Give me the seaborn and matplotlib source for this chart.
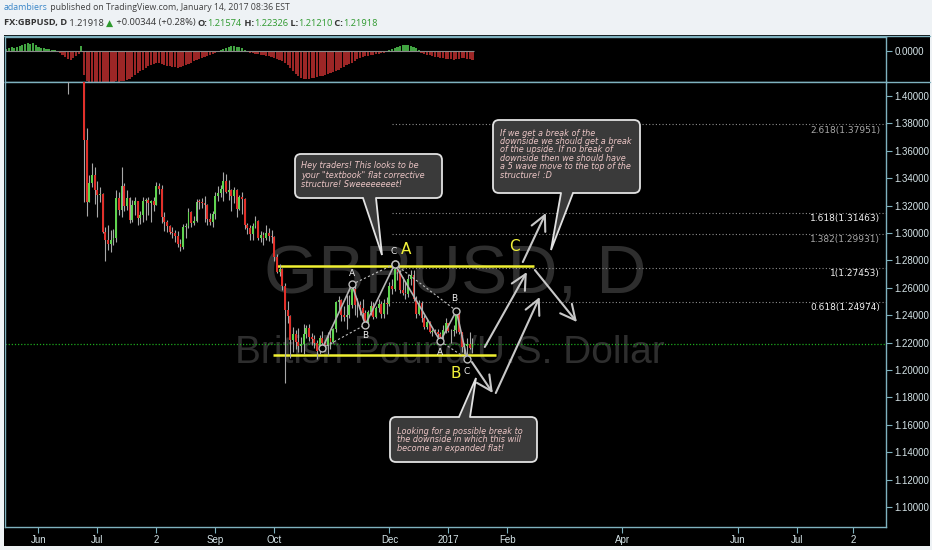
import numpy as np
import pandas as pd
import matplotlib
matplotlib.use("Agg")
import matplotlib.pyplot as plt
import seaborn as sns
from matplotlib.patches import Rectangle, FancyBboxPatch, Polygon
from matplotlib.lines import Line2D

W, H = 932, 550

# ---------------- data (daily FX:GBPUSD candles) ----------------
first_day, last_day = "2016-06-16", "2017-01-13"
opens = [1.4197, 1.4199, 1.4360, 1.4680, 1.4685, 1.4680,
         1.4877, 1.3679, 1.3224, 1.3364, 1.3425, 1.3311,
         1.3277, 1.3283, 1.3005, 1.2946, 1.2918,
         1.2951, 1.2966, 1.3255, 1.3170, 1.3341,
         1.3195, 1.3252, 1.3098, 1.3202, 1.3235,
         1.3109, 1.3134, 1.3234, 1.3240, 1.3216,
         1.3232, 1.3206, 1.3342, 1.3324, 1.3115,
         1.3080, 1.3052, 1.3010, 1.3003, 1.2975,
         1.2922, 1.2898, 1.3043, 1.3049, 1.3150,
         1.3072, 1.3088, 1.3227, 1.3226, 1.3219,
         1.3202, 1.3102, 1.3082, 1.3136, 1.3271,
         1.3292, 1.3321, 1.3376, 1.3302, 1.3314,
         1.3267, 1.3315, 1.3176, 1.3264, 1.3246,
         1.3056, 1.3037, 1.2992, 1.3053, 1.3089,
         1.2965, 1.2985, 1.2964, 1.3003, 1.2977,
         1.2969, 1.2827, 1.2713, 1.2738, 1.2616,
         1.2436, 1.2395, 1.2220, 1.2263, 1.2204,
         1.2178, 1.2187, 1.2263, 1.2303, 1.2240,
         1.2228, 1.2195, 1.2140, 1.2233, 1.2195,
         1.2184, 1.2230, 1.2205, 1.2296, 1.2494,
         1.2511, 1.2404, 1.2386, 1.2402, 1.2478,
         1.2588, 1.2472, 1.2474, 1.2452, 1.2415,
         1.2348, 1.2422, 1.2466, 1.2389, 1.2455,
         1.2483, 1.2410, 1.2486, 1.2484, 1.2610,
         1.2589, 1.2740, 1.2712, 1.2582, 1.2563,
         1.2553, 1.2664, 1.2691, 1.2517, 1.2412,
         1.2490, 1.2383, 1.2312, 1.2350, 1.2281,
         1.2287, 1.2280, 1.2260, 1.2242, 1.2293,
         1.2340, 1.2287, 1.2283, 1.2291, 1.2410,
         1.2277, 1.2167, 1.2174, 1.2187, 1.21574]
highs = [1.4253, 1.4360, 1.4722, 1.4780, 1.4735, 1.5018,
         1.5018, 1.3768, 1.3422, 1.3512, 1.3480, 1.3381,
         1.3339, 1.3291, 1.3042, 1.3061, 1.3020,
         1.3032, 1.3311, 1.3299, 1.3480, 1.3366,
         1.3314, 1.3260, 1.3244, 1.3263, 1.3237,
         1.3164, 1.3266, 1.3258, 1.3263, 1.3244,
         1.3266, 1.3372, 1.3365, 1.3347, 1.3152,
         1.3097, 1.3060, 1.3041, 1.3022, 1.3014,
         1.2953, 1.3063, 1.3076, 1.3186, 1.3159,
         1.3123, 1.3248, 1.3245, 1.3259, 1.3273,
         1.3212, 1.3143, 1.3157, 1.3298, 1.3340,
         1.3347, 1.3445, 1.3430, 1.3388, 1.3323,
         1.3336, 1.3322, 1.3280, 1.3297, 1.3255,
         1.3072, 1.3060, 1.3070, 1.3122, 1.3092,
         1.3018, 1.3004, 1.3056, 1.3039, 1.3022,
         1.2975, 1.2846, 1.2772, 1.2747, 1.2636,
         1.2505, 1.2405, 1.2317, 1.2294, 1.2306,
         1.2242, 1.2335, 1.2332, 1.2336, 1.2270,
         1.2255, 1.2218, 1.2257, 1.2287, 1.2218,
         1.2275, 1.2292, 1.2310, 1.2501, 1.2540,
         1.2515, 1.2466, 1.2544, 1.2545, 1.2625,
         1.2610, 1.2528, 1.2500, 1.2515, 1.2440,
         1.2440, 1.2500, 1.2495, 1.2470, 1.2520,
         1.2500, 1.2515, 1.2530, 1.2640, 1.2665,
         1.2774, 1.2775, 1.2730, 1.2680, 1.2640,
         1.2700, 1.2730, 1.2730, 1.2540, 1.2510,
         1.2500, 1.2400, 1.2375, 1.2360, 1.2300,
         1.2300, 1.2300, 1.2280, 1.2330, 1.2380,
         1.2345, 1.2300, 1.2330, 1.2432, 1.2415,
         1.2280, 1.2195, 1.2230, 1.2280, 1.22326]
lows = [1.4013, 1.4180, 1.4360, 1.4620, 1.4630, 1.4640,
        1.3229, 1.3122, 1.3224, 1.3333, 1.3212, 1.3120,
        1.3226, 1.2999, 1.2798, 1.2879, 1.2861,
        1.2915, 1.2935, 1.3135, 1.3118, 1.3158,
        1.3171, 1.3070, 1.3081, 1.3131, 1.3056,
        1.3065, 1.3078, 1.3092, 1.3135, 1.3082,
        1.3160, 1.3205, 1.3285, 1.3072, 1.3015,
        1.3010, 1.2992, 1.2966, 1.2935, 1.2898,
        1.2865, 1.2884, 1.2967, 1.3040, 1.3045,
        1.3055, 1.3081, 1.3175, 1.3185, 1.3080,
        1.3060, 1.3058, 1.3045, 1.3102, 1.3230,
        1.3260, 1.3237, 1.3290, 1.3240, 1.3163,
        1.3220, 1.3120, 1.3170, 1.3140, 1.3031,
        1.2990, 1.2948, 1.2952, 1.3040, 1.2950,
        1.2937, 1.2916, 1.2952, 1.2942, 1.2924,
        1.2799, 1.2705, 1.2684, 1.2582, 1.1905,
        1.2340, 1.2087, 1.2130, 1.2153, 1.2135,
        1.2134, 1.2114, 1.2232, 1.2214, 1.2180,
        1.2160, 1.2080, 1.2120, 1.2160, 1.2136,
        1.2112, 1.2150, 1.2200, 1.2280, 1.2440,
        1.2361, 1.2360, 1.2302, 1.2380, 1.2450,
        1.2400, 1.2385, 1.2400, 1.2380, 1.2330,
        1.2340, 1.2400, 1.2370, 1.2380, 1.2420,
        1.2380, 1.2380, 1.2410, 1.2470, 1.2555,
        1.2580, 1.2658, 1.2560, 1.2545, 1.2520,
        1.2530, 1.2620, 1.2500, 1.2380, 1.2400,
        1.2350, 1.2300, 1.2300, 1.2270, 1.2250,
        1.2260, 1.2240, 1.2210, 1.2220, 1.2270,
        1.2280, 1.2200, 1.2250, 1.2270, 1.2260,
        1.2135, 1.2120, 1.2080, 1.2150, 1.21210]
closes = [1.4199, 1.4360, 1.4680, 1.4685, 1.4680, 1.4877,
          1.3679, 1.3224, 1.3364, 1.3425, 1.3311, 1.3277,
          1.3283, 1.3005, 1.2946, 1.2918, 1.2951,
          1.2966, 1.3255, 1.3170, 1.3341, 1.3195,
          1.3252, 1.3098, 1.3202, 1.3235, 1.3109,
          1.3134, 1.3234, 1.3240, 1.3216, 1.3232,
          1.3206, 1.3342, 1.3324, 1.3115, 1.3080,
          1.3052, 1.3010, 1.3003, 1.2975, 1.2922,
          1.2898, 1.3043, 1.3049, 1.3150, 1.3072,
          1.3088, 1.3227, 1.3226, 1.3219, 1.3202,
          1.3102, 1.3082, 1.3136, 1.3271, 1.3292,
          1.3321, 1.3376, 1.3302, 1.3314, 1.3267,
          1.3315, 1.3176, 1.3264, 1.3246, 1.3056,
          1.3037, 1.2992, 1.3053, 1.3089, 1.2965,
          1.2985, 1.2964, 1.3003, 1.2977, 1.2969,
          1.2827, 1.2713, 1.2738, 1.2616, 1.2436,
          1.2395, 1.2220, 1.2263, 1.2204, 1.2178,
          1.2187, 1.2263, 1.2303, 1.2240, 1.2228,
          1.2195, 1.2140, 1.2233, 1.2195, 1.2184,
          1.2230, 1.2205, 1.2296, 1.2494, 1.2511,
          1.2404, 1.2386, 1.2402, 1.2478, 1.2588,
          1.2472, 1.2474, 1.2452, 1.2415, 1.2348,
          1.2422, 1.2466, 1.2389, 1.2455, 1.2483,
          1.2410, 1.2486, 1.2484, 1.2610, 1.2589,
          1.2740, 1.2712, 1.2582, 1.2563, 1.2553,
          1.2664, 1.2691, 1.2517, 1.2412, 1.2490,
          1.2383, 1.2312, 1.2350, 1.2281, 1.2287,
          1.2280, 1.2260, 1.2242, 1.2293, 1.2340,
          1.2287, 1.2283, 1.2291, 1.2410, 1.2277,
          1.2167, 1.2174, 1.2187, 1.2157, 1.21918]

# oscillator panel (histogram, thousandths)
osc_first_day = "2016-05-16"
osc_values = [2, 3, 4, 3, 4, 5, 6, 7, 8, 7, 8, 6, 4, 3, 3, 2, 2, 1, 1,
              -1, -2, -4, -6, -8, -9, -7, -5, -3, 5,
              -24, -30, -31, -31, -31, -31, -31, -31, -31, -31, -31, -31,
              -30, -31, -30, -30, -29, -28,
              -26, -24, -22, -20, -19, -17, -15, -14, -13, -12, -12,
              -13, -14, -15, -15, -16, -16, -17, -16,
              -15, -14, -13, -12, -10, -9, -8, -7, -6, -5, -4, -3, -2, -1,
              1, 2, 3, 4, 5, 5, 4, 4, 3, 1,
              -1, -2, -2, -3, -3, -4, -4, -5, -5, -6, -7, -8, -9, -10, -12,
              -14, -17, -20, -23, -25, -27, -28, -28, -28, -27, -27, -26,
              -25, -25, -24, -23, -22, -21, -20, -19, -17, -16, -14, -13,
              -12, -10, -8, -7, -6, -5, -5, -4, -4, -3, -3, -2, -2, -1,
              1, 2, 3, 4, 5, 6, 6, 6, 5, 4, 3, 1,
              -2, -3, -4, -4, -5, -6, -6, -7, -7, -8, -8, -8, -9, -8, -8,
              -7, -7, -8, -8, -9]

# right axis / x axis labels
price_ticks = [1.10, 1.12, 1.14, 1.16, 1.18, 1.20, 1.22, 1.24, 1.26, 1.28,
               1.30, 1.32, 1.34, 1.36, 1.38, 1.40]
tick_dates = ["2016-06-01", "2016-07-01", "2016-08-02", "2016-09-01",
              "2016-10-03", "2016-12-01", "2017-01-02", "2017-02-01",
              "2017-04-03", "2017-06-01", "2017-07-03", "2017-08-01"]
tick_labels = ["Jun", "Jul", "2", "Sep", "Oct", "Dec", "2017", "Feb",
               "Apr", "Jun", "Jul", "2"]

# fibonacci extension levels
fib_ratios = ["2.618", "1.618", "1.382", "1", "0.618"]
fib_prices = [1.37951, 1.31463, 1.29931, 1.27453, 1.24974]
fib_bright = [False, True, False, True, True]
last_close = 1.21918

# yellow structure lines (start bar, end bar, price)
level_prices = [1.2760, 1.2112]
level_start = [72.0, 70.5]
level_end = [168.0, 153.7]

# wave pivots (0, A, B, C)
wave1_bars = [89, 100, 105, 116]
wave1_prices = [1.2160, 1.2625, 1.2330, 1.2774]
wave2_bars = [116, 133, 139, 143]
wave2_prices = [1.2774, 1.2210, 1.2432, 1.2080]

# larger-degree labels
degree_labels = ["A", "B", "C"]
degree_bars = [120.1, 138.8, 160.8]
degree_prices = [1.2876, 1.1978, 1.2898]

# projection arrows
arrow_from_bars = [149.6, 163.8, 168.3, 144.8, 153.7]
arrow_from_prices = [1.2168, 1.2788, 1.2730, 1.2058, 1.1832]
arrow_to_bars = [165.3, 172.4, 184.0, 152.6, 170.1]
arrow_to_prices = [1.2715, 1.3146, 1.2350, 1.1832, 1.2533]

# ---------------- bar index scale (trading days, Jun 24 2016 = 0) ----------------
all_days = pd.bdate_range("2016-04-01", "2017-10-31")
zero = all_days.get_loc(pd.Timestamp("2016-06-24"))


def bar_of(d):
    return all_days.get_loc(pd.Timestamp(d)) - zero


days = pd.bdate_range(first_day, last_day)
bars = np.array([bar_of(d) for d in days], dtype=float)
n = min(len(bars), len(closes))
bars = bars[:n]
o = np.array(opens[:n]); h = np.array(highs[:n])
l = np.array(lows[:n]); c = np.array(closes[:n])

osc_days = pd.bdate_range(osc_first_day, last_day)
osc_bars = np.array([bar_of(d) for d in osc_days], dtype=float)
m = min(len(osc_bars), len(osc_values))
osc_df = pd.DataFrame({"bar": osc_bars[:m],
                       "value": np.array(osc_values[:m]) * 0.001})
osc_df["sign"] = np.where(osc_df["value"] >= 0, "up", "down")

# ---------------- figure ----------------
sns.set_theme(style="dark")
plt.rcParams["font.family"] = ["DejaVu Sans"]
plt.rcParams["axes.linewidth"] = 1.0

fig = plt.figure(figsize=(W / 100, H / 100), dpi=100)
fig.patch.set_facecolor("#eef2f5")
fig.add_artist(Rectangle((4 / W, 1 - 546 / H), (930 - 4) / W, (546 - 35) / H,
                         transform=fig.transFigure, fc="black", ec="none", zorder=0))


def fax(x0, y0, x1, y1):
    return [x0 / W, 1 - y1 / H, (x1 - x0) / W, (y1 - y0) / H]


FRAME = "#7fb2bf"
AXTXT = "#d5e4e8"
GREEN = "#5fd34f"
RED = "#e0302a"

ax_osc = fig.add_axes(fax(5, 37, 886, 82))
ax = fig.add_axes(fax(5, 82, 886, 527))
XLIM = (-(84 - 5) / 2.679, (886 - 84) / 2.679)
YLIM = (1.40 - (527 - 96) / 1370.0, 1.40 + (96 - 82) / 1370.0)

for a in (ax_osc, ax):
    a.set_facecolor("black")
    for s in a.spines.values():
        s.set_color(FRAME)
        s.set_linewidth(1.0)
        s.set_visible(True)
    a.grid(False)

# --- oscillator via seaborn ---
sns.barplot(data=osc_df, x="bar", y="value", hue="sign", native_scale=True,
            palette={"up": "#32b432", "down": "#b01212"}, width=0.8,
            dodge=False, legend=False, errorbar=None, linewidth=0, ax=ax_osc)
ax_osc.hlines(0, XLIM[0], osc_bars[m - 1] + 0.5, color="#8a8a8a", lw=0.8, zorder=1)
ax_osc.set_xlim(*XLIM)
ax_osc.set_ylim(-0.031, 0.014)
ax_osc.set_xlabel(""); ax_osc.set_ylabel("")
ax_osc.set_xticks([])
ax_osc.yaxis.tick_right()
ax_osc.set_yticks([0.0])
ax_osc.set_yticklabels(["0.0000"])
ax_osc.tick_params(axis="y", colors=AXTXT, labelsize=7, length=4, width=0.8,
                   pad=2, direction="out", right=True, left=False)
for t in ax_osc.get_yticklabels():
    t.set_family(["Liberation Sans", "DejaVu Sans"])
ax_osc.tick_params(axis="y", color=FRAME)

# --- main price pane ---
ax.set_xlim(*XLIM)
ax.set_ylim(*YLIM)

# watermark
wm1 = ax.text(0.511, 0.566, "GBPUSD, D", transform=ax.transAxes, ha="center",
              va="center", color="#2e2e2e", fontsize=50,
              family=["Liberation Sans", "DejaVu Sans"], zorder=0)
wm2 = ax.text(0.505, 0.391, "British Pound/U.S. Dollar", transform=ax.transAxes,
              ha="center", va="center", color="#2e2e2e", fontsize=28,
              family=["Liberation Sans", "DejaVu Sans"], zorder=0)

# fib levels
fib_x0 = 115
ax.hlines(fib_prices, fib_x0, XLIM[1], colors="#8e8e8e", lw=0.8,
          linestyles=[(0, (1, 2))], zorder=1)
for r, p, b in zip(fib_ratios, fib_prices, fib_bright):
    ax.annotate(f"{r}({p:.5f})", xy=(XLIM[1], p), xytext=(-6, -6),
                textcoords="offset pixels", ha="right", va="center",
                fontsize=6.5, color="#f2f2f2" if b else "#a8a8a8", zorder=2)

# last price line
ax.axhline(last_close, color="#1eaa1e", lw=0.9, ls=(0, (1, 1.5)), zorder=1)

# yellow structure lines
ax.hlines(level_prices, level_start, level_end, colors="#f0f032", lw=1.8, zorder=2)

# candles
up = c >= o
ax.vlines(bars, l, h, color="#a8a8a8", lw=0.8, zorder=3)
body = np.maximum(np.abs(c - o), 0.0005)
ax.bar(bars, body, bottom=np.minimum(o, c), width=0.7,
       color=np.where(up, GREEN, RED), linewidth=0, zorder=4)

# wave drawings
for wb, wp in ((wave1_bars, wave1_prices), (wave2_bars, wave2_prices)):
    ax.plot(wb, wp, color="#b4b4b4", lw=1.2, zorder=5)
    ax.plot([wb[0], wb[2]], [wp[0], wp[2]], color="#bdbdbd", lw=0.8,
            ls=(0, (2, 2)), zorder=5)
    ax.plot([wb[1], wb[3]], [wp[1], wp[3]], color="#bdbdbd", lw=0.8,
            ls=(0, (2, 2)), zorder=5)
    ax.plot(wb, wp, ls="none", marker="o", ms=5, mfc="black", mec="#bdbdbd",
            mew=1.0, zorder=6)

small = dict(fontsize=6.5, color="#f0f0f0", ha="center", va="center",
             textcoords="offset pixels", zorder=7)
ax.annotate("A", (wave1_bars[1], wave1_prices[1]), xytext=(0, 11), **small)
ax.annotate("B", (wave1_bars[2], wave1_prices[2]), xytext=(0, -11), **small)
ax.annotate("C", (wave1_bars[3], wave1_prices[3]), xytext=(-1, 12), **small)
ax.annotate("A", (wave2_bars[1], wave2_prices[1]), xytext=(0, -11), **small)
ax.annotate("B", (wave2_bars[2], wave2_prices[2]), xytext=(-2, 12), **small)
ax.annotate("C", (wave2_bars[3], wave2_prices[3]), xytext=(0, -12), **small)

for lab, b, p in zip(degree_labels, degree_bars, degree_prices):
    ax.text(b, p, lab, fontsize=11, color="#f2f23a", ha="center", va="center",
            zorder=7)

# projection arrows
for xb, yp, xe, ye in zip(arrow_from_bars, arrow_from_prices,
                          arrow_to_bars, arrow_to_prices):
    ax.annotate("", xy=(xe, ye), xytext=(xb, yp),
                arrowprops=dict(arrowstyle="->,head_length=0.9,head_width=0.45",
                                color="#c8c8c8", lw=1.5, shrinkA=0, shrinkB=0),
                zorder=6)

# axes ticks
ax.yaxis.tick_right()
ax.set_yticks(price_ticks)
ax.set_yticklabels([f"{v:.5f}" for v in price_ticks])
ax.set_xticks([bar_of(d) for d in tick_dates])
ax.set_xticklabels(tick_labels)
ax.tick_params(axis="y", colors=AXTXT, labelsize=7, length=4, width=0.8, pad=2,
               direction="out", right=True, left=False)
ax.tick_params(axis="x", colors=AXTXT, labelsize=7, length=4, width=0.8, pad=2,
               direction="out", bottom=True)
ax.tick_params(axis="both", color=FRAME)
for t in ax.get_yticklabels() + ax.get_xticklabels():
    t.set_family(["Liberation Sans", "DejaVu Sans"])
ax.set_xlabel(""); ax.set_ylabel("")

# frame extension into the price scale area
fig.add_artist(Line2D([886 / W, 930 / W], [1 - 82 / H, 1 - 82 / H],
                      transform=fig.transFigure, color=FRAME, lw=1.0))
fig.add_artist(Line2D([4 / W, 930 / W], [1 - 36 / H, 1 - 36 / H],
                      transform=fig.transFigure, color=FRAME, lw=1.0))

# ---------------- overlay for callouts (pixel space) ----------------
ov = fig.add_axes([0, 0, 1, 1], zorder=10)
ov.set_xlim(0, W); ov.set_ylim(H, 0)
ov.axis("off"); ov.patch.set_alpha(0)

BOXFC = "#3a3a3a"
BOXEC = "#e2e2e2"
TXTC = "#ecc6c6"


def callout(x0, y0, x1, y1, base, edge, tip, lines, tx, ty0, step):
    ov.add_patch(FancyBboxPatch((x0, y0), x1 - x0, y1 - y0,
                                boxstyle="round,pad=0,rounding_size=6",
                                fc=BOXFC, ec=BOXEC, lw=1.3, zorder=1))
    ey = y1 if edge == "bottom" else y0
    inset = -1.5 if edge == "bottom" else 1.5
    ov.add_patch(Polygon([(base[0], ey + inset), tip, (base[1], ey + inset)],
                         closed=True, fc=BOXFC, ec="none", zorder=2))
    ov.plot([base[0], tip[0], base[1]], [ey, tip[1], ey], color=BOXEC, lw=1.3,
            zorder=3, solid_joinstyle="miter")
    for i, s in enumerate(lines):
        ov.text(tx, ty0 + i * step, s, fontsize=5.9, style="italic", color=TXTC,
                ha="left", va="center", zorder=4)


callout(295, 154, 442, 198, (363, 376), "bottom", (382, 255),
        ["Hey traders! This looks to be",
         "your \"textbook\" flat corrective",
         "structure! Sweeeeeeeet!"], 301, 166, 9.2)
callout(493, 120, 640, 193, (561, 573), "bottom", (551, 250),
        ["If we get a break of the",
         "downside we should get a break",
         "of the upside. If no break of",
         "downside then we should have",
         "a 5 wave move to the top of the",
         "structure! :D"], 500, 133, 8.4)
callout(390, 417, 537, 462, (459, 470), "top", (476, 378),
        ["Looking for a possible break to",
         "the downside in which this will",
         "become an expanded flat!"], 397, 431, 8.6)

# ---------------- header ----------------
HFAM = ["Open Sans", "DejaVu Sans"]
renderer = fig.canvas.get_renderer()


def place_runs(runs, x0, yc, target_w, base=8.0):
    def build(size):
        arts, x = [], x0
        for txt, col, wt in runs:
            t = fig.text(x / W, 1 - yc / H, txt, color=col, fontsize=size,
                         fontweight=wt, family=HFAM, ha="left", va="center")
            x += t.get_window_extent(renderer).width
            arts.append(t)
        return arts, x - x0
    arts, tw = build(base)
    for a in arts:
        a.remove()
    build(base * target_w / tw)


DK = "#333333"
HG = "#2f9a2f"
place_runs([("adambiers", "#3a86c8", "normal"),
            (" published on TradingView.com, January 14, 2017 08:36 EST", "#404040", "normal")],
           4, 8, 286)
place_runs([("FX:GBPUSD, D", DK, "bold"), (" 1.21918 ", DK, "normal"),
            ("\u25B2", HG, "normal"), (" +0.00344 (+0.28%) ", DK, "normal"),
            ("O:", DK, "bold"), ("1.21574", HG, "normal"),
            (" H:", DK, "bold"), ("1.22326", HG, "normal"),
            (" L:", DK, "bold"), ("1.21210", HG, "normal"),
            (" C:", DK, "bold"), ("1.21918", HG, "normal")],
           4, 23, 374)

fig.savefig("out.png", dpi=100, facecolor=fig.get_facecolor())
